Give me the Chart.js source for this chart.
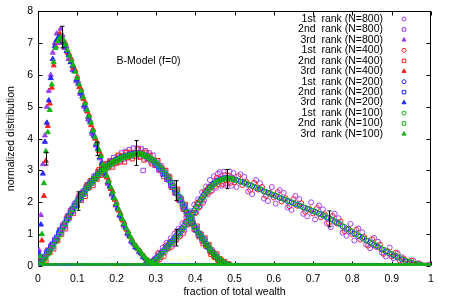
<!DOCTYPE html>
<html>
<head>
<meta charset="utf-8">
<script src="https://cdn.jsdelivr.net/npm/chart.js@4"></script>
<style>
  html, body { margin: 0; padding: 0; background: #fff; }
  #wrap { width: 450px; height: 300px; }
</style>
</head>
<body>
<div id="wrap"><canvas id="chart"></canvas></div>
<script>
// wealth fraction bins (x), N=800 and N=200 runs
const bins = [
  0.0025,0.0075,0.0125,0.0175,0.0225,0.0275,0.0325,0.0375,0.0425,0.0475,
  0.0525,0.0575,0.0625,0.0675,0.0725,0.0775,0.0825,0.0875,0.0925,0.0975,
  0.1025,0.1075,0.1125,0.1175,0.1225,0.1275,0.1325,0.1375,0.1425,0.1475,
  0.1525,0.1575,0.1625,0.1675,0.1725,0.1775,0.1825,0.1875,0.1925,0.1975,
  0.2025,0.2075,0.2125,0.2175,0.2225,0.2275,0.2325,0.2375,0.2425,0.2475,
  0.2525,0.2575,0.2625,0.2675,0.2725,0.2775,0.2825,0.2875,0.2925,0.2975,
  0.3025,0.3075,0.3125,0.3175,0.3225,0.3275,0.3325,0.3375,0.3425,0.3475,
  0.3525,0.3575,0.3625,0.3675,0.3725,0.3775,0.3825,0.3875,0.3925,0.3975,
  0.4025,0.4075,0.4125,0.4175,0.4225,0.4275,0.4325,0.4375,0.4425,0.4475,
  0.4525,0.4575,0.4625,0.4675,0.4725,0.4775,0.4825,0.4875,0.4925,0.4975,
  0.505,0.515,0.525,0.535,0.545,0.555,0.565,0.575,0.585,0.595,
  0.605,0.615,0.625,0.635,0.645,0.655,0.665,0.675,0.685,0.695,
  0.705,0.715,0.725,0.735,0.745,0.755,0.765,0.775,0.785,0.795,
  0.805,0.815,0.825,0.835,0.845,0.855,0.865,0.875,0.885,0.895,
  0.905,0.915,0.925,0.935,0.945,0.955,0.965,0.975,0.985,0.995
];
// bins of the N=400 and N=100 runs
const binsB = [
  0.005,0.01,0.015,0.02,0.025,0.03,0.035,0.04,0.045,0.05,
  0.055,0.06,0.065,0.07,0.075,0.08,0.085,0.09,0.095,0.1,
  0.105,0.11,0.115,0.12,0.125,0.13,0.135,0.14,0.145,0.15,
  0.155,0.16,0.165,0.17,0.175,0.18,0.185,0.19,0.195,0.2,
  0.205,0.21,0.215,0.22,0.225,0.23,0.235,0.24,0.245,0.25,
  0.255,0.26,0.265,0.27,0.275,0.28,0.285,0.29,0.295,0.3,
  0.305,0.31,0.315,0.32,0.325,0.33,0.335,0.34,0.345,0.35,
  0.355,0.36,0.365,0.37,0.375,0.38,0.385,0.39,0.395,0.4,
  0.405,0.41,0.415,0.42,0.425,0.43,0.435,0.44,0.445,0.45,
  0.455,0.46,0.465,0.47,0.475,0.48,0.485,0.49,0.495,0.5,
  0.51,0.52,0.53,0.54,0.55,0.56,0.57,0.58,0.59,0.6,
  0.61,0.62,0.63,0.64,0.65,0.66,0.67,0.68,0.69,0.7,
  0.71,0.72,0.73,0.74,0.75,0.76,0.77,0.78,0.79,0.8,
  0.81,0.82,0.83,0.84,0.85,0.86,0.87,0.88,0.89,0.9,
  0.91,0.92,0.93,0.94,0.95,0.96,0.97,0.98,0.99,1.0
];

// N=800
const r1n800 = [
  0,0,0,0,0,0,0,0,0,0,
  0,0,0,0,0,0,0,0,0,0,
  0,0,0,0,0,0,0,0,0,0,
  0,0,0,0,0,0,0,0,0,0,
  0,0,0,0,0,0,0,0,0,0,
  0,0,0,0.01,0.01,0.06,0.05,0.14,0.12,0.24,
  0.18,0.42,0.28,0.58,0.42,0.73,0.55,0.87,0.68,1.02,
  0.82,1.17,0.96,1.34,1.12,1.53,1.3,1.72,1.5,1.93,
  1.68,2.1,1.88,2.32,2.06,2.5,2.24,2.7,2.38,2.82,
  2.45,2.9,2.95,2.52,2.96,2.55,2.58,2.97,2.52,2.92,
  2.48,2.88,2.8,2.34,2.26,2.7,2.6,2.12,2.04,2.48,
  1.96,2.38,2.3,1.84,1.76,2.2,2.1,1.64,1.56,2.0,
  1.46,1.9,1.78,1.34,1.22,1.64,1.5,1.05,0.95,1.32,
  0.8,1.18,1.06,0.68,0.56,0.88,0.76,0.42,0.3,0.58,
  0.24,0.4,0.28,0.14,0.07,0.17,0.08,0.02,0.0,0.03
];
const r2n800 = [
  0.08,0.1,0.25,0.25,0.44,0.42,0.63,0.62,0.84,0.83,
  1.05,1.05,1.28,1.26,1.5,1.5,1.74,1.72,1.95,1.92,
  2.14,2.1,2.32,2.28,2.5,2.45,2.66,2.6,2.82,2.75,
  2.96,2.9,3.1,2.98,3.2,3.08,3.3,3.18,3.4,3.25,
  3.45,3.3,3.55,3.36,3.6,3.4,3.65,3.45,3.7,3.46,
  3.7,3.45,3.68,3.0,3.62,3.36,3.55,3.27,3.48,3.16,
  3.3,3.02,3.15,2.88,3.0,2.72,2.82,2.52,2.62,2.3,
  2.38,2.08,2.14,1.86,1.9,1.62,1.66,1.38,1.42,1.15,
  1.2,0.96,1.02,0.79,0.84,0.62,0.66,0.46,0.5,0.31,
  0.34,0.19,0.22,0.1,0.12,0.04,0.05,0.01,0.01,0,
  0,0,0,0,0,0,0,0,0,0,
  0,0,0,0,0,0,0,0,0,0,
  0,0,0,0,0,0,0,0,0,0,
  0,0,0,0,0,0,0,0,0,0,
  0,0,0,0,0,0,0,0,0,0
];
const r3n800 = [
  0.5,1.6,3.2,4.1,5.0,5.5,6.0,6.7,7.0,7.3,
  7.0,7.45,7.25,6.85,6.9,6.5,6.55,6.15,6.2,5.8,
  5.8,5.4,5.4,5.0,4.98,4.6,4.58,4.15,4.12,3.78,
  3.7,3.38,3.27,2.92,2.9,2.58,2.52,2.24,2.17,1.9,
  1.83,1.57,1.52,1.27,1.22,1.0,0.95,0.76,0.73,0.58,
  0.56,0.43,0.4,0.27,0.25,0.15,0.14,0.06,0.06,0.02,
  0.02,0,0,0,0,0,0,0,0,0,
  0,0,0,0,0,0,0,0,0,0,
  0,0,0,0,0,0,0,0,0,0,
  0,0,0,0,0,0,0,0,0,0,
  0,0,0,0,0,0,0,0,0,0,
  0,0,0,0,0,0,0,0,0,0,
  0,0,0,0,0,0,0,0,0,0,
  0,0,0,0,0,0,0,0,0,0,
  0,0,0,0,0,0,0,0,0,0
];

// N=400
const r1n400 = [
  0,0,0,0,0,0,0,0,0,0,
  0,0,0,0,0,0,0,0,0,0,
  0,0,0,0,0,0,0,0,0,0,
  0,0,0,0,0,0,0,0,0,0,
  0,0,0,0,0,0,0,0,0,0,
  0,0,0,0.01,0.06,0.03,0.11,0.04,0.17,0.13,
  0.39,0.21,0.43,0.3,0.64,0.55,0.75,0.6,0.82,0.79,
  1.08,0.92,1.15,1.03,1.39,1.32,1.54,1.41,1.66,1.66,
  1.98,1.84,2.09,1.99,2.35,2.28,2.49,2.34,2.55,2.5,
  2.77,2.57,2.75,2.57,2.86,2.71,2.84,2.61,2.75,2.63,
  2.82,2.54,2.64,2.39,2.61,2.4,2.48,2.2,2.3,2.15,
  2.32,2.03,2.13,1.88,2.1,1.89,1.97,1.7,1.8,1.65,
  1.82,1.53,1.62,1.36,1.57,1.34,1.4,1.1,1.17,1.0,
  1.14,0.83,0.91,0.64,0.84,0.61,0.67,0.38,0.46,0.3,
  0.42,0.18,0.24,0.07,0.17,0.04,0.08,0,0.02,0
];
const r2n400 = [
  0.12,0.06,0.25,0.16,0.5,0.43,0.66,0.54,0.79,0.8,
  1.13,1.0,1.26,1.17,1.56,1.52,1.76,1.65,1.9,1.9,
  2.21,2.06,2.3,2.19,2.55,2.47,2.68,2.53,2.76,2.73,
  3.02,2.85,3.05,2.9,3.22,3.11,3.29,3.11,3.3,3.23,
  3.48,3.27,3.45,3.27,3.56,3.42,3.57,3.37,3.53,3.44,
  3.67,3.42,3.55,3.33,3.57,3.38,3.47,3.21,3.32,3.16,
  3.31,3.0,3.08,2.81,3.0,2.76,2.79,2.47,2.51,2.3,
  2.41,2.06,2.1,1.78,1.93,1.65,1.66,1.32,1.35,1.14,
  1.25,0.92,0.99,0.7,0.88,0.63,0.67,0.37,0.44,0.27,
  0.38,0.14,0.21,0.05,0.14,0.02,0.07,0,0.01,0,
  0,0,0,0,0,0,0,0,0,0,
  0,0,0,0,0,0,0,0,0,0,
  0,0,0,0,0,0,0,0,0,0,
  0,0,0,0,0,0,0,0,0,0,
  0,0,0,0,0,0,0,0,0,0
];
const r3n400 = [
  0.2,0.8,2.2,3.3,4.4,5.1,5.6,6.3,6.9,7.1,
  7.3,7.1,7.0,7.0,6.7,6.65,6.5,6.22,6.15,5.95,
  5.62,5.55,5.25,5.15,4.85,4.75,4.42,4.3,4.0,3.9,
  3.6,3.5,3.15,3.05,2.78,2.7,2.42,2.35,2.08,1.99,
  1.74,1.66,1.43,1.36,1.14,1.08,0.9,0.83,0.67,0.64,
  0.52,0.48,0.36,0.32,0.21,0.18,0.11,0.09,0.04,0.03,
  0.01,0.01,0,0,0,0,0,0,0,0,
  0,0,0,0,0,0,0,0,0,0,
  0,0,0,0,0,0,0,0,0,0,
  0,0,0,0,0,0,0,0,0,0,
  0,0,0,0,0,0,0,0,0,0,
  0,0,0,0,0,0,0,0,0,0,
  0,0,0,0,0,0,0,0,0,0,
  0,0,0,0,0,0,0,0,0,0,
  0,0,0,0,0,0,0,0,0,0
];

// N=200
const r1n200 = [
  0,0,0,0,0,0,0,0,0,0,
  0,0,0,0,0,0,0,0,0,0,
  0,0,0,0,0,0,0,0,0,0,
  0,0,0,0,0,0,0,0,0,0,
  0,0,0,0,0,0,0,0,0,0,
  0,0,0,0.01,0.02,0.05,0.08,0.11,0.15,0.2,
  0.26,0.32,0.39,0.46,0.53,0.6,0.67,0.74,0.81,0.88,
  0.96,1.03,1.12,1.19,1.29,1.37,1.47,1.55,1.66,1.75,
  1.86,1.95,2.06,2.15,2.25,2.33,2.42,2.48,2.55,2.59,
  2.65,2.68,2.72,2.73,2.76,2.76,2.77,2.75,2.75,2.72,
  2.7,2.65,2.61,2.55,2.51,2.45,2.41,2.34,2.3,2.24,
  2.2,2.14,2.1,2.04,2.0,1.94,1.9,1.84,1.8,1.74,
  1.7,1.64,1.59,1.52,1.47,1.39,1.33,1.24,1.17,1.09,
  1.02,0.94,0.88,0.8,0.74,0.66,0.6,0.52,0.46,0.39,
  0.33,0.27,0.21,0.16,0.12,0.08,0.05,0.03,0.01,0.005
];
const r2n200 = [
  0.06,0.13,0.21,0.3,0.4,0.48,0.58,0.69,0.78,0.9,
  1.0,1.12,1.22,1.34,1.45,1.58,1.68,1.8,1.89,2.0,
  2.08,2.18,2.26,2.36,2.44,2.53,2.6,2.68,2.75,2.83,
  2.89,2.97,3.01,3.07,3.11,3.17,3.21,3.26,3.29,3.33,
  3.35,3.39,3.41,3.44,3.45,3.48,3.49,3.52,3.52,3.54,
  3.54,3.54,3.51,3.5,3.46,3.44,3.39,3.36,3.31,3.26,
  3.18,3.12,3.04,2.98,2.89,2.82,2.71,2.62,2.5,2.4,
  2.28,2.18,2.06,1.95,1.82,1.71,1.58,1.47,1.34,1.24,
  1.12,1.04,0.95,0.87,0.77,0.69,0.59,0.52,0.43,0.37,
  0.29,0.24,0.18,0.13,0.09,0.06,0.03,0.02,0.01,0,
  0,0,0,0,0,0,0,0,0,0,
  0,0,0,0,0,0,0,0,0,0,
  0,0,0,0,0,0,0,0,0,0,
  0,0,0,0,0,0,0,0,0,0,
  0,0,0,0,0,0,0,0,0,0
];
const r3n200 = [
  0.4,1.3,2.9,3.9,4.5,5.2,5.9,6.5,6.9,7.1,
  7.2,7.15,7.05,6.9,6.75,6.62,6.4,6.28,6.12,5.85,
  5.72,5.45,5.32,5.05,4.92,4.68,4.52,4.22,4.08,3.82,
  3.67,3.42,3.22,2.98,2.85,2.63,2.49,2.28,2.14,1.93,
  1.8,1.6,1.49,1.3,1.2,1.03,0.94,0.79,0.71,0.6,
  0.55,0.45,0.39,0.29,0.24,0.16,0.13,0.07,0.05,0.02,
  0.02,0.005,0,0,0,0,0,0,0,0,
  0,0,0,0,0,0,0,0,0,0,
  0,0,0,0,0,0,0,0,0,0,
  0,0,0,0,0,0,0,0,0,0,
  0,0,0,0,0,0,0,0,0,0,
  0,0,0,0,0,0,0,0,0,0,
  0,0,0,0,0,0,0,0,0,0,
  0,0,0,0,0,0,0,0,0,0,
  0,0,0,0,0,0,0,0,0,0
];

// N=100
const r1n100 = [
  0,0,0,0,0,0,0,0,0,0,
  0,0,0,0,0,0,0,0,0,0,
  0,0,0,0,0,0,0,0,0,0,
  0,0,0,0,0,0,0,0,0,0,
  0,0,0,0,0,0,0,0,0,0,
  0,0,0,0,0.02,0.04,0.07,0.1,0.14,0.19,
  0.25,0.31,0.38,0.45,0.52,0.59,0.66,0.73,0.8,0.87,
  0.94,1.02,1.1,1.18,1.27,1.36,1.45,1.54,1.64,1.74,
  1.84,1.94,2.04,2.14,2.23,2.32,2.4,2.47,2.53,2.58,
  2.63,2.67,2.7,2.72,2.74,2.75,2.75,2.74,2.73,2.71,
  2.68,2.64,2.59,2.54,2.49,2.44,2.39,2.33,2.28,2.23,
  2.18,2.13,2.08,2.03,1.98,1.93,1.88,1.83,1.78,1.73,
  1.68,1.63,1.57,1.51,1.45,1.38,1.31,1.23,1.15,1.08,
  1.0,0.93,0.86,0.79,0.72,0.65,0.58,0.51,0.44,0.38,
  0.32,0.26,0.2,0.15,0.11,0.07,0.04,0.02,0.01,0
];
const r2n100 = [
  0.05,0.12,0.2,0.29,0.38,0.47,0.57,0.67,0.77,0.88,
  0.99,1.1,1.21,1.32,1.44,1.56,1.67,1.78,1.88,1.98,
  2.07,2.16,2.25,2.34,2.43,2.51,2.59,2.66,2.74,2.81,
  2.88,2.95,3.0,3.05,3.1,3.15,3.2,3.24,3.28,3.31,
  3.34,3.37,3.4,3.42,3.44,3.46,3.48,3.5,3.51,3.52,
  3.53,3.52,3.5,3.48,3.45,3.42,3.38,3.34,3.3,3.24,
  3.17,3.1,3.03,2.96,2.88,2.8,2.7,2.6,2.49,2.38,
  2.27,2.16,2.05,1.93,1.81,1.69,1.57,1.45,1.33,1.22,
  1.11,1.02,0.94,0.85,0.76,0.67,0.58,0.5,0.42,0.35,
  0.28,0.22,0.17,0.12,0.08,0.05,0.03,0.015,0.005,0,
  0,0,0,0,0,0,0,0,0,0,
  0,0,0,0,0,0,0,0,0,0,
  0,0,0,0,0,0,0,0,0,0,
  0,0,0,0,0,0,0,0,0,0,
  0,0,0,0,0,0,0,0,0,0
];
const r3n100 = [
  0.3,1.0,2.6,3.6,4.2,4.9,5.7,6.4,6.85,7.05,
  7.15,7.2,7.1,6.95,6.78,6.6,6.45,6.3,6.1,5.9,
  5.7,5.5,5.3,5.1,4.9,4.7,4.5,4.25,4.05,3.85,
  3.65,3.45,3.2,3.0,2.83,2.65,2.47,2.3,2.12,1.95,
  1.78,1.62,1.47,1.32,1.18,1.05,0.92,0.8,0.7,0.62,
  0.54,0.46,0.38,0.3,0.23,0.17,0.12,0.08,0.05,0.03,
  0.015,0.005,0,0,0,0,0,0,0,0,
  0,0,0,0,0,0,0,0,0,0,
  0,0,0,0,0,0,0,0,0,0,
  0,0,0,0,0,0,0,0,0,0,
  0,0,0,0,0,0,0,0,0,0,
  0,0,0,0,0,0,0,0,0,0,
  0,0,0,0,0,0,0,0,0,0,
  0,0,0,0,0,0,0,0,0,0,
  0,0,0,0,0,0,0,0,0,0
];

// error bars: x, mean, half height
const errX  = [0.021, 0.06, 0.151, 0.102, 0.249, 0.351, 0.351, 0.482, 0.741];
const errY  = [3.37, 7.19, 3.68, 2.04, 3.55, 2.37, 0.89, 2.73, 1.48];
const errDy = [0.2, 0.34, 0.21, 0.29, 0.39, 0.31, 0.26, 0.3, 0.25];

const xTickLabels = ['0','0.1','0.2','0.3','0.4','0.5','0.6','0.7','0.8','0.9','1'];
const yTickLabels = ['0','1','2','3','4','5','6','7','8'];
const sizes = ['800','400','200','100'];
const rankNames = ['1st','2nd','3rd'];

const series = [
  [r1n800, r2n800, r3n800],
  [r1n400, r2n400, r3n400],
  [r1n200, r2n200, r3n200],
  [r1n100, r2n100, r3n100]
];
const xGrids = [bins, binsB, bins, binsB];
const colors = ['#a040f0', '#ff2020', '#2828ff', '#14b414'];
const styles = ['circle', 'rect', 'triangle'];
const radii = [2.5, 3.1, 2.9];
const FONT = '"Liberation Sans", Arial, sans-serif';

const datasets = [];
series.forEach((group, g) => {
  group.forEach((vals, r) => {
    datasets.push({
      label: rankNames[r] + '  rank (N=' + sizes[g] + ')',
      data: xGrids[g].map((x, i) => ({ x: x, y: vals[i] })),
      pointStyle: styles[r],
      pointRadius: radii[r],
      borderColor: colors[g],
      backgroundColor: r === 2 ? colors[g] : 'rgba(0,0,0,0)',
      borderWidth: 1,
      showLine: false,
      order: 12 - datasets.length,
    });
  });
});

// border box with inward ticks on all four sides
const frame = {
  id: 'frame',
  beforeDatasetsDraw(chart) {
    const { ctx, chartArea: a, scales } = chart;
    const L = Math.round(a.left) + 0.5, R = Math.round(a.right) - 0.5;
    const T = Math.round(a.top) + 0.5, B = Math.round(a.bottom) - 0.5;
    ctx.save();
    ctx.strokeStyle = '#000';
    ctx.lineWidth = 1;
    ctx.beginPath();
    scales.x.ticks.forEach((t) => {
      const px = Math.round(scales.x.getPixelForValue(t.value)) + 0.5;
      ctx.moveTo(px, B); ctx.lineTo(px, B - 4);
      ctx.moveTo(px, T); ctx.lineTo(px, T + 4);
    });
    scales.y.ticks.forEach((t) => {
      const py = Math.round(scales.y.getPixelForValue(t.value)) + 0.5;
      ctx.moveTo(L, py); ctx.lineTo(L + 4, py);
      ctx.moveTo(R, py); ctx.lineTo(R - 4, py);
    });
    ctx.stroke();
    ctx.strokeRect(L, T, R - L, B - T);
    ctx.restore();
  },
};

const extras = {
  id: 'extras',
  afterDatasetsDraw(chart) {
    const { ctx, scales } = chart;
    const x = scales.x, y = scales.y;
    ctx.save();
    // error bars
    ctx.strokeStyle = '#000';
    ctx.lineWidth = 1;
    ctx.beginPath();
    errX.forEach((ex, i) => {
      const px = Math.round(x.getPixelForValue(ex)) + 0.5;
      const top = y.getPixelForValue(errY[i] + errDy[i]);
      const bot = y.getPixelForValue(errY[i] - errDy[i]);
      ctx.moveTo(px, top); ctx.lineTo(px, bot);
      ctx.moveTo(px - 2, top); ctx.lineTo(px + 2, top);
      ctx.moveTo(px - 2, bot); ctx.lineTo(px + 2, bot);
    });
    ctx.stroke();

    // model label
    ctx.fillStyle = '#000';
    ctx.font = '10.5px ' + FONT;
    ctx.textAlign = 'left';
    ctx.textBaseline = 'middle';
    ctx.fillText('B-Model (f=0)', x.getPixelForValue(0.2), y.getPixelForValue(6.45));

    // key
    ctx.textAlign = 'right';
    chart.data.datasets.forEach((ds, i) => {
      const ly = 19 + i * 10.45;
      ctx.fillStyle = '#000';
      ctx.fillText(ds.label, 383, ly);
      ctx.strokeStyle = ds.borderColor;
      ctx.fillStyle = ds.backgroundColor;
      ctx.lineWidth = 1;
      Chart.helpers.drawPoint(ctx, { pointStyle: ds.pointStyle, radius: ds.pointRadius * 0.8, borderWidth: 1, rotation: 0 }, 404, ly);
    });
    ctx.restore();
  },
};

new Chart(document.getElementById('chart'), {
  type: 'scatter',
  data: { datasets: datasets },
  options: {
    responsive: true,
    maintainAspectRatio: false,
    animation: false,
    events: [],
    layout: { padding: { top: 10, right: 19, left: 0, bottom: 0 } },
    plugins: {
      legend: { display: false },
      tooltip: { enabled: false },
    },
    scales: {
      x: {
        type: 'linear',
        min: 0,
        max: 1,
        afterFit: (s) => { s.height = 34; },
        grid: { display: false, drawTicks: false },
        border: { display: false },
        ticks: {
          stepSize: 0.1,
          maxRotation: 0,
          autoSkip: false,
          padding: 7,
          color: '#000',
          font: { family: FONT, size: 10.5 },
          callback: (v, i) => xTickLabels[i],
        },
        title: {
          display: true,
          text: 'fraction of total wealth',
          color: '#000',
          font: { family: FONT, size: 10.5 },
          padding: { top: 0, bottom: 2 },
        },
      },
      y: {
        min: 0,
        max: 8,
        afterFit: (s) => { s.width = 38; },
        grid: { display: false, drawTicks: false },
        border: { display: false },
        ticks: {
          stepSize: 1,
          padding: 5,
          color: '#000',
          font: { family: FONT, size: 10.5 },
          callback: (v, i) => yTickLabels[i],
        },
        title: {
          display: true,
          text: 'normalized distribution',
          color: '#000',
          font: { family: FONT, size: 10.5 },
          padding: { top: 5, bottom: 0 },
        },
      },
    },
  },
  plugins: [frame, extras],
});
</script>
</body>
</html>
